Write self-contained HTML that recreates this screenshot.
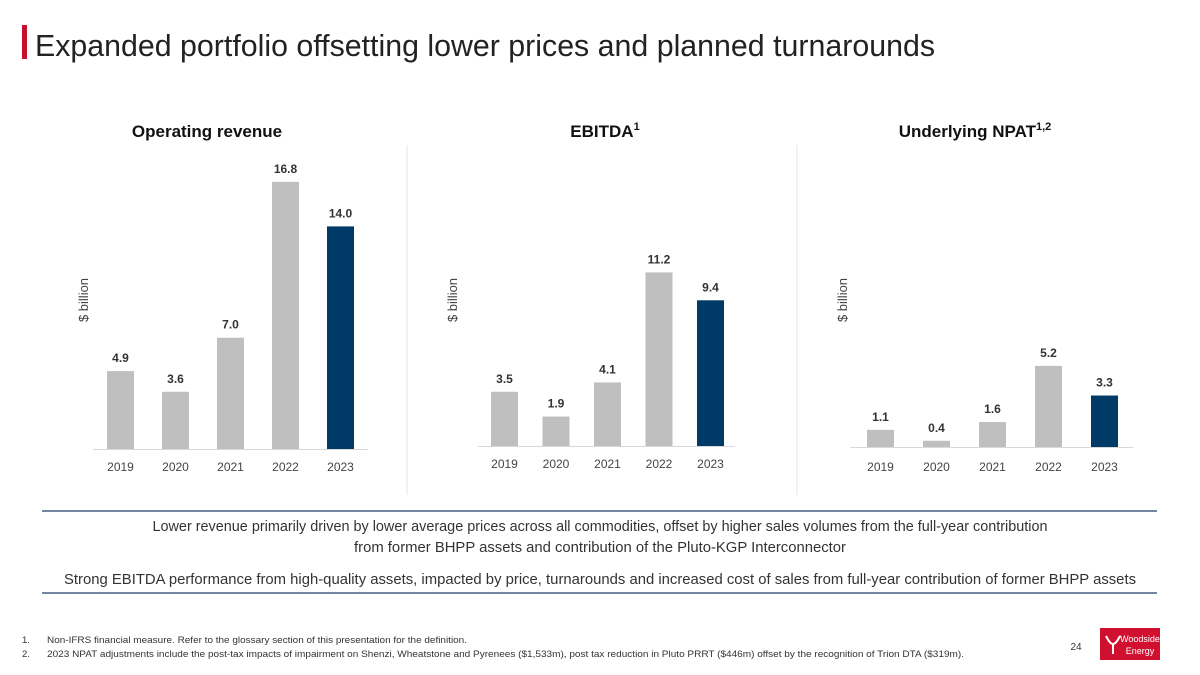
<!DOCTYPE html>
<html><head><meta charset="utf-8"><style>
html,body{margin:0;padding:0;background:#fff;}
svg{display:block;font-family:"Liberation Sans",sans-serif;}
</style></head><body>
<svg id="s" width="1200" height="675" viewBox="0 0 1200 675">
<rect x="22" y="25" width="5" height="34" fill="#c8102e"/>
<text x="35" y="56" font-size="31" fill="#222" textLength="900" lengthAdjust="spacingAndGlyphs">Expanded portfolio offsetting lower prices and planned turnarounds</text>
<text x="207" y="137" font-size="17" font-weight="bold" text-anchor="middle" fill="#111">Operating revenue</text>
<text x="605" y="137" font-size="17" font-weight="bold" text-anchor="middle" fill="#111">EBITDA<tspan font-size="11" dy="-7">1</tspan></text>
<text x="975" y="137" font-size="17" font-weight="bold" text-anchor="middle" fill="#111">Underlying NPAT<tspan font-size="11" dy="-7">1,2</tspan></text>
<line x1="407" y1="145" x2="407" y2="495" stroke="#e4e4e4"/>
<line x1="797" y1="145" x2="797" y2="495" stroke="#e4e4e4"/>
<g id="charts"></g>
<line x1="42" y1="511" x2="1157" y2="511" stroke="#1f3f6e" stroke-width="1.3"/>
<line x1="42" y1="593" x2="1157" y2="593" stroke="#1f3f6e" stroke-width="1.3"/>
<text x="600" y="531" font-size="15" text-anchor="middle" fill="#333" textLength="895" lengthAdjust="spacingAndGlyphs">Lower revenue primarily driven by lower average prices across all commodities, offset by higher sales volumes from the full-year contribution</text>
<text x="600" y="552" font-size="15" text-anchor="middle" fill="#333" textLength="492" lengthAdjust="spacingAndGlyphs">from former BHPP assets and contribution of the Pluto-KGP Interconnector</text>
<text x="600" y="584" font-size="15" text-anchor="middle" fill="#333" textLength="1072" lengthAdjust="spacingAndGlyphs">Strong EBITDA performance from high-quality assets, impacted by price, turnarounds and increased cost of sales from full-year contribution of former BHPP assets</text>
<text x="22" y="643" font-size="9.5" fill="#333">1.</text>
<text x="47" y="643" font-size="9.5" fill="#333" textLength="420" lengthAdjust="spacingAndGlyphs">Non-IFRS financial measure. Refer to the glossary section of this presentation for the definition.</text>
<text x="22" y="657" font-size="9.5" fill="#333">2.</text>
<text x="47" y="657" font-size="9.5" fill="#333" textLength="917" lengthAdjust="spacingAndGlyphs">2023 NPAT adjustments include the post-tax impacts of impairment on Shenzi, Wheatstone and Pyrenees ($1,533m), post tax reduction in Pluto PRRT ($446m) offset by the recognition of Trion DTA ($319m).</text>
<text x="1076" y="650" font-size="10" text-anchor="middle" fill="#333">24</text>
<g>
<rect x="1100" y="628" width="60" height="32" fill="#d0102e"/>
<path d="M1106 636 q4 8 7 8 q3 0 7-8 M1113 644 v10" stroke="#fff" stroke-width="2" fill="none"/>
<text x="1140" y="642" font-size="9" fill="#fff" text-anchor="middle">Woodside</text>
<text x="1140" y="654" font-size="9" fill="#fff" text-anchor="middle">Energy</text>
</g>
</svg>
<script>
const years = ["2019","2020","2021","2022","2023"];
const revenueValues = [4.9,3.6,7.0,16.8,14.0];
const ebitdaValues = [3.5,1.9,4.1,11.2,9.4];
const npatValues = [1.1,0.4,1.6,5.2,3.3];
const NS="http://www.w3.org/2000/svg";
const g=document.getElementById('charts');
function mk(tag,attrs){const e=document.createElementNS(NS,tag);for(const k in attrs)e.setAttribute(k,attrs[k]);return e;}
const charts=[
 {name:'revenue',vals:revenueValues,base:449,scale:15.9,x0:107,step:55,ax1:93,ax2:368,yl:471,ylab:88},
 {name:'ebitda',vals:ebitdaValues,base:446,scale:15.5,x0:491,step:51.5,ax1:478,ax2:735,yl:468,ylab:457},
 {name:'npat',vals:npatValues,base:447,scale:15.6,x0:867,step:56,ax1:850,ax2:1133,yl:471,ylab:847}
];
charts.forEach(c=>{
  const yS=v=>c.base-v*c.scale;
  const xS=i=>c.x0+i*c.step;
  const ax=mk('line',{x1:c.ax1,y1:c.base+0.5,x2:c.ax2,y2:c.base+0.5,stroke:'#d9d9d9'});
  
  
  g.appendChild(ax);
  const yt=mk('text',{x:c.ylab,y:300,'font-size':13,fill:'#444','text-anchor':'middle',transform:'rotate(-90 '+c.ylab+' 300)'});
  yt.textContent='$ billion';
  
  
  g.appendChild(yt);
  c.vals.forEach((v,i)=>{
    const last=i===c.vals.length-1;
    const r=mk('rect',{x:xS(i),y:yS(v),width:27,height:c.base-yS(v),fill:last?'#003a66':'#bfbfbf'});
    
    
    g.appendChild(r);
    const t=mk('text',{x:xS(i)+13.5,y:yS(v)-9,'font-size':12,'font-weight':'bold',fill:'#333','text-anchor':'middle'});
    t.textContent=v.toFixed(1);
    
    
    g.appendChild(t);
    const yl=mk('text',{x:xS(i)+13.5,y:c.yl,'font-size':12,fill:'#444','text-anchor':'middle'});
    yl.textContent=years[i];
    
    
    g.appendChild(yl);
  });
});
</script>
</body></html>
